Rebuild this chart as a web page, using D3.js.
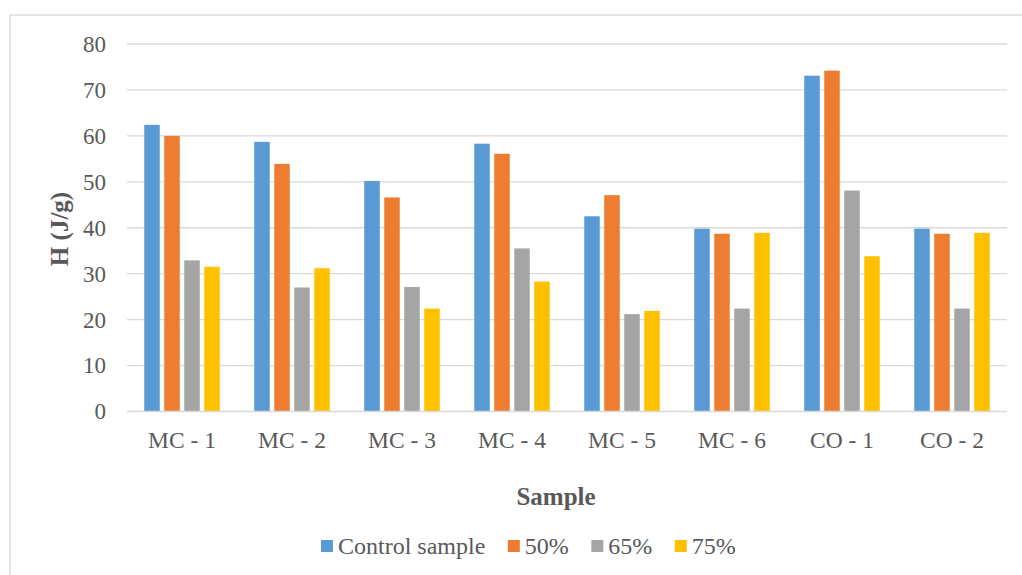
<!DOCTYPE html>
<html><head><meta charset="utf-8">
<script src="https://cdn.jsdelivr.net/npm/d3@7"></script>
<style>body{margin:0;background:#fff;} svg{display:block;}</style>
</head><body>
<script>
const categories = ["MC - 1","MC - 2","MC - 3","MC - 4","MC - 5","MC - 6","CO - 1","CO - 2"];
const seriesNames = ["Control sample","50%","65%","75%"];
const controlSample = [62.4, 58.7, 50.2, 58.3, 42.5, 39.8, 73.1, 39.8];
const pct50 = [60.0, 53.9, 46.6, 56.1, 47.1, 38.7, 74.2, 38.7];
const pct65 = [32.9, 27.0, 27.1, 35.5, 21.2, 22.4, 48.1, 22.4];
const pct75 = [31.5, 31.2, 22.4, 28.3, 21.9, 38.9, 33.8, 38.9];
const yTicks = [0,10,20,30,40,50,60,70,80];
const colors = ["#5B9BD5","#ED7D31","#A5A5A5","#FFC000"];
const seriesValues = [controlSample, pct50, pct65, pct75];

const W = 1022, H = 575;
const svg = d3.select("body").append("svg").attr("width", W).attr("height", H);
const font = "'Liberation Serif','Times New Roman',serif";
const textColor = "#595959";

svg.append("rect").attr("x",10).attr("y",15).attr("width",1100).attr("height",700)
  .attr("fill","none").attr("stroke","#D9D9D9").attr("stroke-width",1.3);

const pLeft = 127, pRight = 1007, pTop = 44, pBottom = 411.5;
const y = d3.scaleLinear().domain([0,80]).range([pBottom, pTop]);
const x0 = d3.scaleBand().domain(categories).range([pLeft,pRight]).paddingInner(0.3136).paddingOuter(0.1568);
const x1 = d3.scaleBand().domain(seriesNames).range([0, x0.bandwidth()]).paddingInner(0.225).paddingOuter(0);

// gridlines
svg.append("g").selectAll("line").data(yTicks.filter(d=>d>0)).join("line")
  .attr("x1",pLeft).attr("x2",pRight).attr("y1",d=>y(d)).attr("y2",d=>y(d))
  .attr("stroke","#D9D9D9").attr("stroke-width",1.3);

// y tick labels
const yAxis = d3.axisLeft(y).tickValues(yTicks).tickSize(0).tickPadding(21);
const ga = svg.append("g").attr("transform",`translate(${pLeft},0)`).call(yAxis);
ga.select(".domain").remove();
ga.selectAll("text").attr("font-family",font).attr("font-size",23).attr("fill",textColor);

// bars
const g = svg.append("g");
categories.forEach((c, i) => {
  seriesNames.forEach((s, j) => {
    const v = seriesValues[j][i];
    g.append("rect").attr("x", x0(c) + x1(s)).attr("width", x1.bandwidth())
      .attr("y", y(v)).attr("height", y(0) - y(v)).attr("fill", colors[j]);
  });
});

// x axis line
svg.append("line").attr("x1",pLeft).attr("x2",pRight).attr("y1",y(0)).attr("y2",y(0))
  .attr("stroke","#D9D9D9").attr("stroke-width",1.3);

// x axis labels
const xAxis = d3.axisBottom(x0).tickSize(0).tickPadding(20);
const gx = svg.append("g").attr("transform",`translate(0,${pBottom})`).call(xAxis);
gx.select(".domain").remove();
gx.selectAll("text").attr("font-family",font).attr("font-size",23.5).attr("fill",textColor);

// axis titles
svg.append("text").attr("transform","translate(68,229) rotate(-90)").attr("text-anchor","middle")
  .attr("font-family",font).attr("font-size",25).attr("font-weight","bold").attr("fill",textColor).text("H (J/g)");
svg.append("text").attr("x",556).attr("y",505).attr("text-anchor","middle")
  .attr("font-family",font).attr("font-size",25).attr("font-weight","bold").attr("fill",textColor).text("Sample");

// legend
const legend = svg.append("g");
let lx = 321;
seriesNames.forEach((s, j) => {
  legend.append("rect").attr("x", lx).attr("y", 540).attr("width", 12).attr("height", 12).attr("fill", colors[j]);
  const t = legend.append("text").attr("x", lx + 17).attr("y", 554).attr("font-family",font).attr("font-size",24)
    .attr("fill",textColor).text(s);
  lx += 17 + t.node().getComputedTextLength() + 22.5;
});
</script>
</body></html>
